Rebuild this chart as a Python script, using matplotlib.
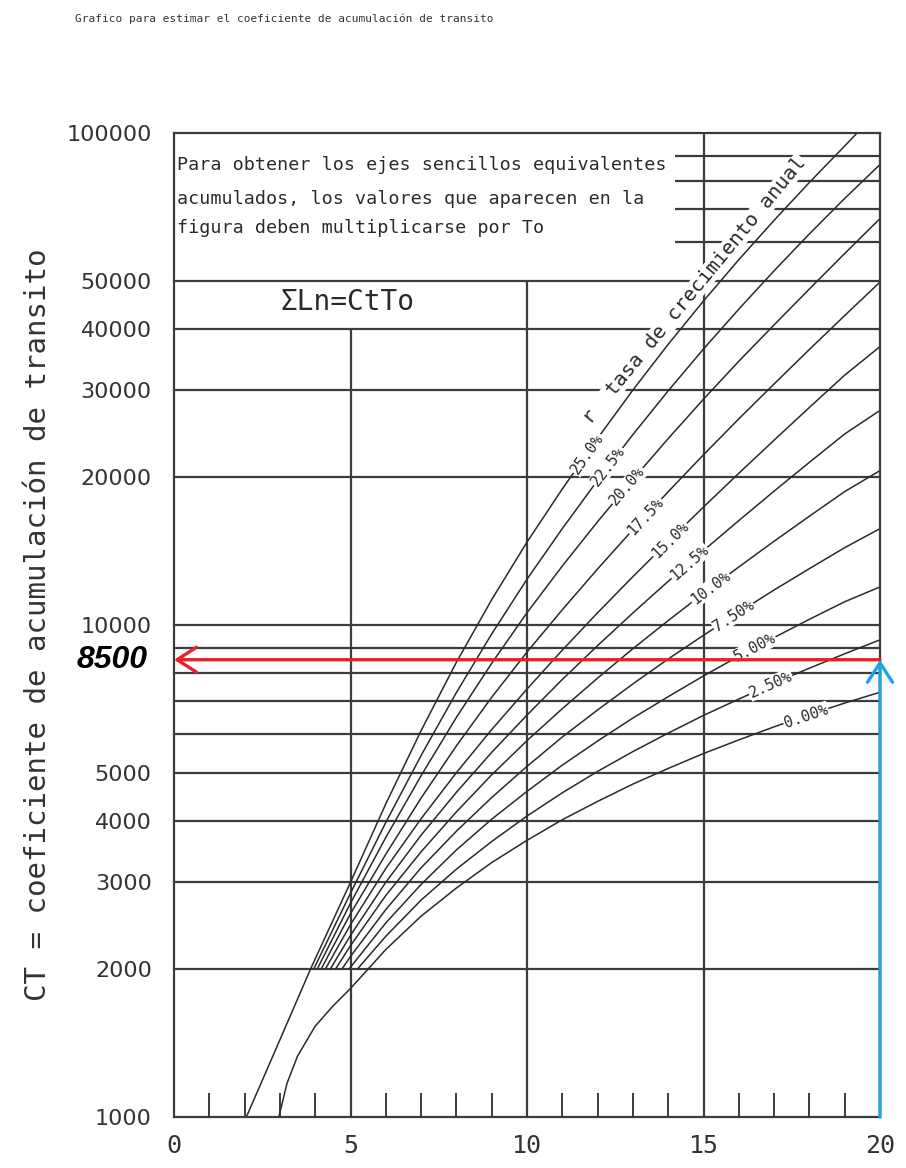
import numpy as np
import matplotlib.pyplot as plt
from matplotlib.ticker import FixedLocator, NullLocator, NullFormatter

# coeficiente de acumulacion CT leido para cada tasa de crecimiento anual r
rate_labels = ["25.0%", "22.5%", "20.0%", "17.5%", "15.0%", "12.5%",
               "10.0%", "7.50%", "5.00%", "2.50%", "0.00%"]

years_25 = [2.05, 3.0, 3.87, 5, 6, 7, 8, 9, 10, 11, 12, 13, 14, 15, 16, 17, 18, 19, 19.35]
ct_25 = [1000, 1435, 2000, 3000, 4330, 6100, 8400, 11260, 14740, 18900, 23960,
         30030, 37200, 45560, 55270, 66450, 79350, 94090, 100000]

years_225 = [3.96, 5, 6, 7, 8, 9, 10, 11, 12, 13, 14, 15, 16, 17, 18, 19, 20]
ct_225 = [2000, 2850, 3970, 5430, 7290, 9590, 12390, 15700, 19680, 24380, 29920,
          36390, 43850, 52480, 62370, 73620, 86300]

years_20 = [4.06, 5, 6, 7, 8, 9, 10, 11, 12, 13, 14, 15, 16, 17, 18, 19, 20]
ct_20 = [2000, 2720, 3700, 4940, 6490, 8360, 10590, 13180, 16220, 19770, 23930,
         28770, 34360, 40740, 48190, 56890, 66990]

years_175 = [4.17, 5, 6, 7, 8, 9, 10, 11, 12, 13, 14, 15, 16, 17, 18, 19, 20]
ct_175 = [2000, 2590, 3420, 4450, 5680, 7130, 8810, 10740, 13000, 15630, 18660,
          22180, 26240, 30900, 36310, 42560, 49770]

years_15 = [4.29, 5, 6, 7, 8, 9, 10, 11, 12, 13, 14, 15, 16, 17, 18, 19, 20]
ct_15 = [2000, 2460, 3200, 4040, 5010, 6130, 7410, 8890, 10590, 12540, 14780,
         17370, 20340, 23750, 27680, 32200, 36800]

years_125 = [4.43, 5, 6, 7, 8, 9, 10, 11, 12, 13, 14, 15, 16, 17, 18, 19, 20]
ct_125 = [2000, 2340, 3000, 3740, 4570, 5510, 6560, 7750, 9080, 10580, 12270,
          14170, 16300, 18710, 21410, 24450, 27300]

years_10 = [4.58, 5, 6, 7, 8, 9, 10, 11, 12, 13, 14, 15, 16, 17, 18, 19, 20]
ct_10 = [2000, 2230, 2820, 3460, 4170, 4960, 5820, 6760, 7800, 8950, 10210,
         11600, 13120, 14800, 16640, 18670, 20600]

years_75 = [4.76, 5, 6, 7, 8, 9, 10, 11, 12, 13, 14, 15, 16, 17, 18, 19, 20]
ct_75 = [2000, 2120, 2640, 3210, 3810, 4460, 5160, 5920, 6720, 7590, 8530,
         9530, 10610, 11780, 13020, 14360, 15700]

years_5 = [4.96, 6, 7, 8, 9, 10, 11, 12, 13, 14, 15, 16, 17, 18, 19, 20]
ct_5 = [2000, 2480, 2970, 3490, 4030, 4590, 5190, 5810, 6470, 7150, 7880,
        8640, 9430, 10270, 11150, 11950]

years_25b = [5.2, 6, 7, 8, 9, 10, 11, 12, 13, 14, 15, 16, 17, 18, 19, 20]
ct_25b = [2000, 2330, 2760, 3190, 3630, 4090, 4560, 5040, 5530, 6030, 6550,
          7070, 7620, 8170, 8740, 9330]

years_0 = [2.97, 3.2, 3.5, 4, 4.5, 5, 6, 7, 8, 9, 10, 11, 12, 13, 14, 15, 16, 17, 18, 19, 20]
ct_0 = [1000, 1170, 1330, 1530, 1680, 1825, 2190, 2560, 2920, 3290, 3650, 4020,
        4380, 4750, 5110, 5480, 5840, 6210, 6570, 6940, 7300]

# posicion (en anios) de la etiqueta de cada curva
label_years = [11.7, 12.3, 12.85, 13.35, 14.05, 14.6, 15.2, 15.85, 16.45, 16.9, 17.9]

x_labels = ["0", "5", "10", "15", "20"]
x_label_pos = [0, 5, 10, 15, 20]
y_ticks = [1000, 2000, 3000, 4000, 5000, 10000, 20000, 30000, 40000, 50000, 100000]

ct_read = 8500
note_lines = ["Para obtener los ejes sencillos equivalentes",
              "acumulados, los valores que aparecen en la",
              "figura deben multiplicarse por To"]

curves = [(years_25, ct_25), (years_225, ct_225), (years_20, ct_20),
          (years_175, ct_175), (years_15, ct_15), (years_125, ct_125),
          (years_10, ct_10), (years_75, ct_75), (years_5, ct_5),
          (years_25b, ct_25b), (years_0, ct_0)]

MONO = "DejaVu Sans Mono"
grid = "#3c3c3c"
ink = "#2a2a2a"

fig = plt.figure(figsize=(9.06, 11.68), dpi=100)
ax = fig.add_axes([174 / 906, 1 - 1117 / 1168, 706 / 906, 984 / 1168])
ax.set_yscale("log")
ax.set_xlim(0, 20)
ax.set_ylim(1000, 100000)

# reticula
full_rows = [2000, 3000, 4000, 5000, 6000, 7000, 8000, 9000, 10000,
             20000, 30000, 40000, 50000]
ax.hlines(full_rows, 0, 20, colors=grid, lw=1.6, zorder=1)
ax.hlines([60000, 70000, 80000, 90000], 14.2, 20, colors=grid, lw=1.6, zorder=1)
ax.vlines(5, 1000, 40000, colors=grid, lw=1.6, zorder=1)
ax.vlines(10, 1000, 50000, colors=grid, lw=1.6, zorder=1)
ax.vlines(15, 1000, 100000, colors=grid, lw=1.6, zorder=1)
for s in ax.spines.values():
    s.set_color(grid)
    s.set_linewidth(1.6)

# ejes
ax.set_xticks(x_label_pos)
ax.set_xticklabels(x_labels, family=MONO, fontsize=18, color="#333333")
ax.xaxis.set_minor_locator(FixedLocator([i for i in range(1, 20) if i % 5]))
ax.xaxis.set_minor_formatter(NullFormatter())
ax.tick_params(axis="x", which="major", length=0, pad=12)
ax.tick_params(axis="x", which="minor", direction="in", length=17, width=1.4, color=grid)

ax.set_yticks(y_ticks)
ax.set_yticklabels([str(v) for v in y_ticks], family="DejaVu Sans", fontsize=16, color="#333333")
ax.yaxis.set_minor_locator(NullLocator())
ax.tick_params(axis="y", length=0, pad=16)

ax.text(-0.037, ct_read, str(ct_read), transform=ax.get_yaxis_transform(),
        ha="right", va="center", fontsize=23, fontweight="bold", fontstyle="italic",
        family="Liberation Sans", color="black")

# curvas de crecimiento
for n, ct in curves:
    ax.plot(n, ct, color=ink, lw=1.1, zorder=2)


def angle_on(n, ct, x, dx=0.4):
    logc = np.log10(ct)
    a = ax.transData.transform((x - dx, 10 ** np.interp(x - dx, n, logc)))
    b = ax.transData.transform((x + dx, 10 ** np.interp(x + dx, n, logc)))
    return np.degrees(np.arctan2(b[1] - a[1], b[0] - a[0]))


box = dict(facecolor="white", edgecolor="none", pad=0.6)
for name, (n, ct), xl in zip(rate_labels, curves, label_years):
    yl = 10 ** np.interp(xl, n, np.log10(ct))
    ax.text(xl, yl, name, rotation=angle_on(n, ct, xl), rotation_mode="anchor",
            ha="center", va="center", family=MONO, fontsize=11, color=ink,
            bbox=box, zorder=4)

ax.text(14.76, 47950, "r  tasa de crecimiento anual",
        rotation=angle_on(years_25, ct_25, 14.76), rotation_mode="anchor",
        ha="center", va="center", family=MONO, fontsize=14.5, color=ink,
        bbox=dict(facecolor="white", edgecolor="none", pad=0.3), zorder=4)

# notas
for txt, yv in zip(note_lines, [86100, 73440, 64100]):
    ax.text(0.08, yv, txt, ha="left", va="center", family=MONO, fontsize=13.2,
            color=ink, zorder=4)
ax.text(4.9, 45300, "\u03a3Ln=CtTo", ha="center", va="center", family=MONO,
        fontsize=20, color=ink, zorder=4)

# lectura del ejemplo: n = 20 anios -> CT = 8500
ax.annotate("", xy=(0, ct_read), xytext=(20, ct_read),
            arrowprops=dict(arrowstyle="->,head_length=0.7,head_width=0.45",
                            color="#e8202a", lw=2.4, shrinkA=0, shrinkB=0,
                            mutation_scale=20),
            annotation_clip=False, zorder=6)
ax.annotate("", xy=(20, ct_read), xytext=(20, 1000),
            arrowprops=dict(arrowstyle="->,head_length=0.7,head_width=0.45",
                            color="#1ea3e2", lw=2.4, shrinkA=0, shrinkB=0,
                            mutation_scale=20),
            annotation_clip=False, zorder=6)

fig.text(38 / 906, 1 - 625 / 1168, "CT = coeficiente de acumulación de transito",
         rotation=90, ha="center", va="center", family=MONO, fontsize=21,
         color="#333333")
fig.text(284 / 906, 1 - 19 / 1168,
         "Grafico para estimar el coeficiente de acumulación de transito",
         ha="center", va="center", family=MONO, fontsize=8, color="#333333")

fig.savefig("out.png", dpi=100)
